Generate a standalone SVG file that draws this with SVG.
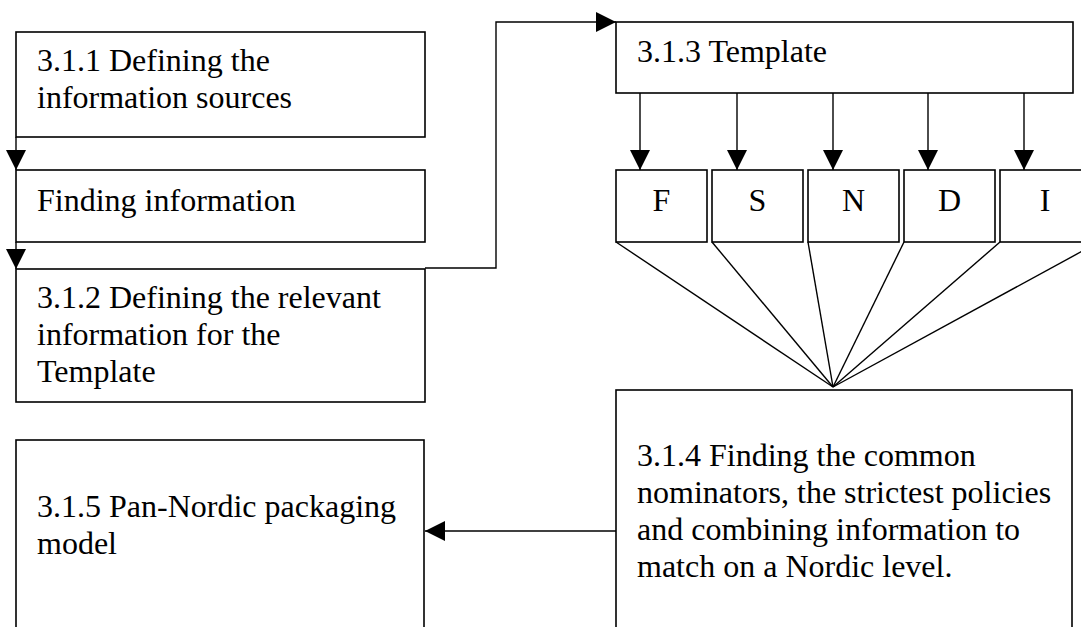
<svg xmlns="http://www.w3.org/2000/svg" width="1081" height="627" viewBox="0 0 1081 627">
  <style>
    .box { fill: #ffffff; stroke: #000000; stroke-width: 1.6; }
    .txt { font-family: "Liberation Serif", "Times New Roman", serif; font-size: 32px; fill: #000000; }
    .mid { text-anchor: middle; }
    .conn { fill: none; stroke: #000000; stroke-width: 1.4; }
  </style>
  <defs>
    <marker id="arrow" viewBox="0 0 20 20" refX="20" refY="10" markerWidth="20" markerHeight="20" markerUnits="userSpaceOnUse" orient="auto">
      <path d="M0,0 L20,10 L0,20 Z" fill="#000000"/>
    </marker>
  </defs>
  <rect width="1081" height="627" fill="#ffffff"/>

  <g id="node-311">
    <rect class="box" x="16" y="32" width="409" height="105"/>
    <text class="txt" x="37" y="71">3.1.1 Defining the</text>
    <text class="txt" x="37" y="108">information sources</text>
  </g>
  <g id="node-finding">
    <rect class="box" x="16" y="170" width="409" height="72"/>
    <text class="txt" x="37" y="211">Finding information</text>
  </g>
  <g id="node-312">
    <rect class="box" x="16" y="269" width="409" height="133"/>
    <text class="txt" x="37" y="308">3.1.2 Defining the relevant</text>
    <text class="txt" x="37" y="345">information for the</text>
    <text class="txt" x="37" y="382">Template</text>
  </g>
  <g id="node-315">
    <rect class="box" x="16" y="440" width="408" height="220"/>
    <text class="txt" x="37" y="517">3.1.5 Pan-Nordic packaging</text>
    <text class="txt" x="37" y="554">model</text>
  </g>
  <g id="node-313">
    <rect class="box" x="616" y="22" width="457" height="71"/>
    <text class="txt" x="637" y="62">3.1.3 Template</text>
  </g>
  <g id="node-F">
    <rect class="box" x="616" y="170" width="91" height="72"/>
    <text class="txt mid" x="661.5" y="211">F</text>
  </g>
  <g id="node-S">
    <rect class="box" x="712" y="170" width="91" height="72"/>
    <text class="txt mid" x="757.5" y="211">S</text>
  </g>
  <g id="node-N">
    <rect class="box" x="808" y="170" width="91" height="72"/>
    <text class="txt mid" x="853.5" y="211">N</text>
  </g>
  <g id="node-D">
    <rect class="box" x="904" y="170" width="91" height="72"/>
    <text class="txt mid" x="949.5" y="211">D</text>
  </g>
  <g id="node-I">
    <rect class="box" x="1000" y="170" width="92" height="72"/>
    <text class="txt mid" x="1045" y="211">I</text>
  </g>
  <g id="node-314">
    <rect class="box" x="616" y="390" width="456" height="270"/>
    <text class="txt" x="637" y="466">3.1.4 Finding the common</text>
    <text class="txt" x="637" y="503">nominators, the strictest policies</text>
    <text class="txt" x="637" y="540">and combining information to</text>
    <text class="txt" x="637" y="577">match on a Nordic level.</text>
  </g>

  <g id="connectors">
    <line class="conn" x1="16" y1="137" x2="16" y2="170" marker-end="url(#arrow)"/>
    <line class="conn" x1="16" y1="242" x2="16" y2="269" marker-end="url(#arrow)"/>
    <polyline class="conn" points="425,268 496,268 496,22 616,22" marker-end="url(#arrow)"/>
    <line class="conn" x1="640" y1="93" x2="640" y2="170" marker-end="url(#arrow)"/>
    <line class="conn" x1="737" y1="93" x2="737" y2="170" marker-end="url(#arrow)"/>
    <line class="conn" x1="833" y1="93" x2="833" y2="170" marker-end="url(#arrow)"/>
    <line class="conn" x1="928" y1="93" x2="928" y2="170" marker-end="url(#arrow)"/>
    <line class="conn" x1="1024" y1="93" x2="1024" y2="170" marker-end="url(#arrow)"/>
    <line class="conn" x1="616" y1="242" x2="833" y2="387"/>
    <line class="conn" x1="712" y1="242" x2="833" y2="387"/>
    <line class="conn" x1="808" y1="242" x2="833" y2="387"/>
    <line class="conn" x1="904" y1="242" x2="833" y2="387"/>
    <line class="conn" x1="1000" y1="242" x2="833" y2="387"/>
    <line class="conn" x1="1099" y1="242" x2="833" y2="387"/>
    <line class="conn" x1="616" y1="531" x2="425" y2="531" marker-end="url(#arrow)"/>
  </g>
</svg>
